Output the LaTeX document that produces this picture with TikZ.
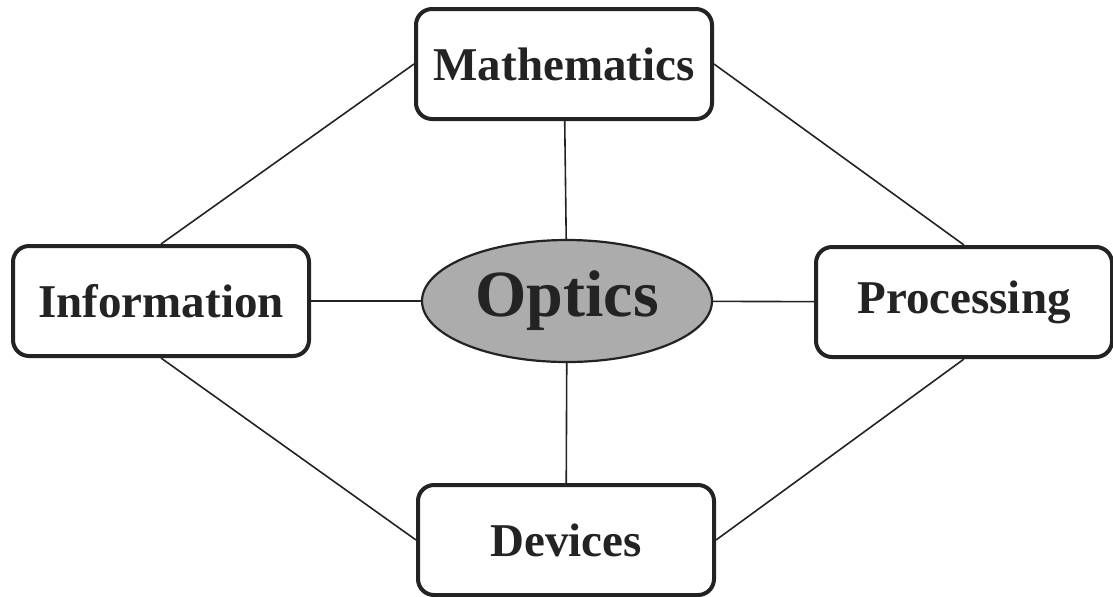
\documentclass[tikz,border=0pt]{standalone}
\usepackage{fontspec}
\setmainfont{Liberation Serif}
\usetikzlibrary{shapes.geometric}
\definecolor{inkdark}{RGB}{35,35,35}
\definecolor{hubgray}{RGB}{172,172,172}

\begin{document}
\begin{tikzpicture}[x=0.5pt, y=-0.5pt,
  topic/.style={draw=inkdark, line width=2pt, rounded corners=8pt, fill=white,
    minimum width=148pt, minimum height=55pt, inner sep=0pt,
    font=\bfseries\fontsize{23.5}{26}\selectfont, text=inkdark},
  hub/.style={ellipse, draw=inkdark, line width=1.1pt, fill=hubgray,
    minimum width=145pt, minimum height=61pt, inner sep=0pt,
    font=\bfseries\fontsize{33}{38}\selectfont, text=inkdark},
  link/.style={draw=inkdark, line width=0.8pt}]
  \useasboundingbox (0,0) rectangle (1113,596);
  % the four topics round the hub
  \node[topic] (math) at (564,64) {Mathematics};
  \node[topic] (info) at (161,301) {Information};
  \node[topic] (proc) at (964,302) {Processing};
  \node[topic] (dev) at (566,540) {Devices};
  \node[hub] (optics) at (567,301) {Optics};
  % spokes
  \draw[link] (math) -- (optics);
  \draw[link] (optics) -- (dev);
  \draw[link] (info) -- (optics);
  \draw[link] (optics) -- (proc);
  % outer ring
  \draw[link] (math.west) -- (info.north);
  \draw[link] (math.east) -- (proc.north);
  \draw[link] (info.south) -- (dev.west);
  \draw[link] (proc.south) -- (dev.east);
\end{tikzpicture}
\end{document}
